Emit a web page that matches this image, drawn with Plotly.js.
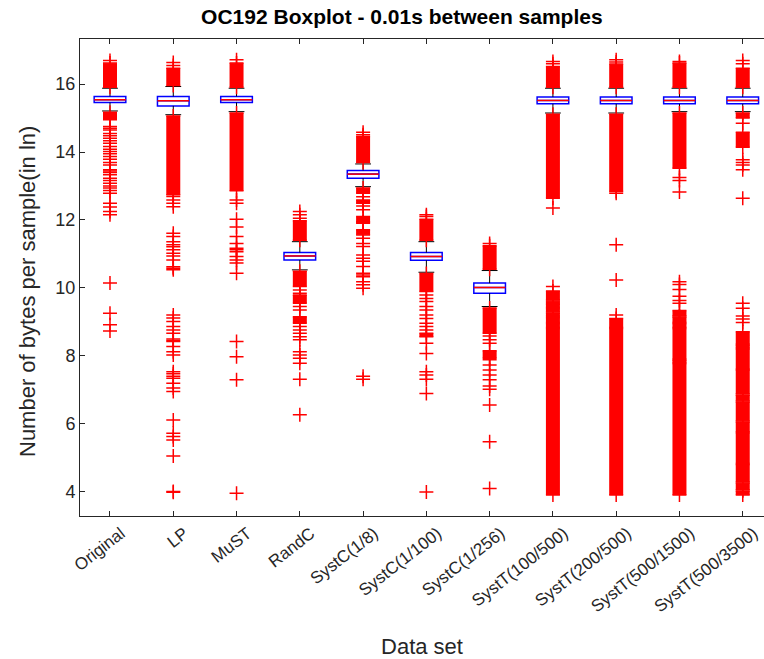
<!DOCTYPE html>
<html>
<head>
<meta charset="utf-8">
<script src="https://cdn.plot.ly/plotly-3.0.1.min.js"></script>
<style>
  html, body { margin: 0; padding: 0; background: #fff; }
  #chart { width: 764px; height: 659px; }
</style>
</head>
<body>
<div id="chart"></div>
<script>
// Data sets on the x axis
const labels = ['Original', 'LP', 'MuST', 'RandC', 'SystC(1/8)', 'SystC(1/100)',
  'SystC(1/256)', 'SystT(100/500)', 'SystT(200/500)', 'SystT(500/1500)', 'SystT(500/3500)'];

// Box statistics (ln of bytes per sample)
const q1      = [15.46, 15.36, 15.46, 10.82, 13.23, 10.81, 9.84, 15.42, 15.42, 15.42, 15.42];
const median  = [15.54, 15.51, 15.54, 10.94, 13.35, 10.92, 10.01, 15.52, 15.52, 15.52, 15.52];
const q3      = [15.64, 15.64, 15.64, 11.04, 13.46, 11.04, 10.14, 15.62, 15.62, 15.62, 15.62];
const whiskLo = [15.21, 15.10, 15.19, 10.53, 12.98, 10.46, 9.45, 15.15, 15.15, 15.19, 15.19];
const whiskHi = [15.88, 15.93, 15.88, 11.36, 13.65, 11.36, 10.51, 15.88, 15.88, 15.88, 15.88];

// Runs of outliers so dense that their markers merge: [low, high]
const denseRuns = [
  [[15.91, 16.62], [14.95, 15.17]],
  [[15.96, 16.47], [12.74, 15.06]],
  [[15.91, 16.62], [12.86, 15.15]],
  [[11.40, 11.98], [10.04, 10.49], [9.55, 9.79], [8.96, 9.15]],
  [[13.69, 14.46], [12.79, 12.94], [12.49, 12.59], [11.90, 12.10], [11.56, 11.71]],
  [[11.40, 12.02], [9.89, 10.42], [8.56, 8.66]],
  [[10.55, 11.24], [8.66, 9.41], [7.93, 8.15]],
  [[15.91, 16.52], [12.64, 15.11], [9.64, 9.91], [9.55, 9.61], [9.42, 9.52], [9.29, 9.39],
   [9.16, 9.26], [8.98, 9.13], [8.83, 8.95], [3.90, 8.80]],
  [[15.91, 16.59], [12.84, 15.11], [8.83, 9.10], [3.90, 8.80]],
  [[15.91, 16.62], [13.52, 15.15], [9.17, 9.33], [8.98, 9.14], [8.83, 8.95], [7.90, 8.80],
   [7.80, 7.87], [3.90, 7.77]],
  [[15.91, 16.47], [15.00, 15.15], [14.14, 14.58], [8.34, 8.71], [8.24, 8.31], [7.60, 8.21],
   [6.87, 7.57], [6.67, 6.84], [6.08, 6.64], [5.76, 6.05], [4.83, 5.73], [4.28, 4.80],
   [4.05, 4.25], [3.90, 4.02]]
];

// Individual outliers
const outliers = [
  [16.70, 14.75, 14.70, 14.65, 14.55, 14.48, 14.41, 14.33, 14.26, 14.16, 14.08, 14.02, 13.95,
   13.87, 13.79, 13.69, 13.62, 13.48, 13.44, 13.40, 13.33, 13.23, 13.16, 13.08, 13.00, 12.94,
   12.87, 12.79, 12.49, 12.38, 12.25, 12.15, 10.14, 9.25, 8.91, 8.73],
  [16.64, 16.55, 12.69, 12.59, 12.49, 12.39, 11.61, 11.51, 11.36, 11.27, 11.21, 11.12, 11.02,
   10.94, 10.82, 10.62, 10.58, 10.53, 9.20, 9.11, 9.01, 8.86, 8.76, 8.66, 8.49, 8.45, 8.42,
   8.27, 8.12, 8.02, 7.53, 7.47, 7.40, 7.34, 7.19, 7.05, 6.95, 6.11, 5.72, 5.62, 5.52, 5.05,
   4.00, 3.98],
  [16.72, 12.59, 12.49, 12.02, 11.79, 11.51, 11.31, 11.17, 11.12, 11.06, 10.92, 10.82, 10.73,
   10.43, 8.42, 7.97, 7.29, 3.95],
  [12.25, 12.15, 12.05, 9.94, 9.84, 9.45, 9.35, 8.86, 8.76, 8.66, 8.56, 8.47, 8.12, 8.02,
   7.93, 7.78, 7.31, 6.26],
  [14.58, 14.51, 12.68, 12.41, 12.30, 11.95, 11.46, 11.31, 11.22, 10.97, 10.87, 10.78, 10.63,
   10.43, 10.38, 10.33, 10.18, 10.09, 9.99, 7.40, 7.31],
  [12.15, 12.10, 9.79, 9.69, 9.60, 9.45, 9.35, 9.20, 9.10, 8.96, 8.86, 8.76, 8.37, 8.07,
   7.53, 7.43, 7.31, 6.89, 3.99],
  [11.31, 8.58, 8.47, 8.37, 7.88, 7.73, 7.58, 7.43, 7.29, 7.11, 7.01, 6.55, 5.47, 4.09],
  [16.67, 16.60, 12.35, 10.04],
  [16.72, 16.65, 12.79, 11.27, 10.23, 9.20],
  [16.67, 13.25, 13.16, 12.82, 10.18, 10.10, 9.95, 9.75, 9.63, 9.55],
  [16.70, 16.60, 14.85, 13.77, 13.69, 13.62, 13.48, 12.64, 9.55, 9.40, 9.17, 9.08, 8.98]
];

const positions = labels.map((_, i) => i + 1);
const BOX_HALF = 0.25;   // half of box width, data units
const CAP_HALF = 0.125;  // half of whisker cap width
const AXIS_GREY = '#262626';
const FONT = 'Liberation Sans, Arial, Helvetica, sans-serif';

// Whisker stems and caps
const whiskX = [], whiskY = [], capX = [], capY = [];
positions.forEach((p, i) => {
  whiskX.push(p, p, null, p, p, null);
  whiskY.push(q3[i], whiskHi[i], null, q1[i], whiskLo[i], null);
  capX.push(p - CAP_HALF, p + CAP_HALF, null, p - CAP_HALF, p + CAP_HALF, null);
  capY.push(whiskHi[i], whiskHi[i], null, whiskLo[i], whiskLo[i], null);
});

// Dense outlier runs as thick vertical strokes, plus their end markers
const runX = [], runY = [], ptX = [], ptY = [];
denseRuns.forEach((runs, i) => {
  runs.forEach(([lo, hi]) => {
    runX.push(positions[i], positions[i], null);
    runY.push(lo, hi, null);
    ptX.push(positions[i], positions[i]);
    ptY.push(lo, hi);
  });
});
outliers.forEach((vals, i) => {
  vals.forEach(v => { ptX.push(positions[i]); ptY.push(v); });
});

// Median segments
const medX = [], medY = [];
positions.forEach((p, i) => {
  medX.push(p - BOX_HALF, p + BOX_HALF, null);
  medY.push(median[i], median[i], null);
});

const traces = [
  { type: 'scatter', mode: 'lines', x: whiskX, y: whiskY,
    line: { color: '#000000', width: 1 }, hoverinfo: 'skip', showlegend: false },
  { type: 'scatter', mode: 'lines', x: capX, y: capY,
    line: { color: '#000000', width: 1 }, hoverinfo: 'skip', showlegend: false },
  { type: 'scatter', mode: 'lines', x: runX, y: runY,
    line: { color: '#ff0000', width: 14 }, hoverinfo: 'skip', showlegend: false },
  { type: 'scatter', mode: 'markers', x: ptX, y: ptY,
    marker: { symbol: 'cross-thin', size: 10, color: '#ff0000',
              line: { color: '#ff0000', width: 1.5 } },
    hoverinfo: 'y', showlegend: false },
  { type: 'box', x: positions, q1: q1, median: median, q3: q3,
    lowerfence: q1, upperfence: q3, width: 2 * BOX_HALF, whiskerwidth: 0,
    boxpoints: false, fillcolor: 'rgba(0,0,0,0)',
    line: { color: '#0000ff', width: 1.5 }, hoverinfo: 'skip', showlegend: false },
  { type: 'scatter', mode: 'lines', x: medX, y: medY,
    line: { color: '#ff0000', width: 1.5 }, hoverinfo: 'skip', showlegend: false }
];

const layout = {
  width: 764, height: 659,
  margin: { l: 80, r: 0, t: 39, b: 143 },
  paper_bgcolor: '#ffffff', plot_bgcolor: '#ffffff',
  showlegend: false,
  font: { family: FONT, color: AXIS_GREY },
  title: {
    text: 'OC192 Boxplot - 0.01s between samples',
    font: { family: FONT, size: 21, weight: 'bold', color: '#000000' },
    xref: 'container', x: 0.526, xanchor: 'center',
    yref: 'container', y: 1 - 17 / 659, yanchor: 'middle'
  },
  xaxis: {
    range: [0.526, 11.336],
    tickmode: 'array', tickvals: positions, ticktext: labels, tickangle: -38,
    ticklabelshift: 11,
    ticks: 'inside', ticklen: 5, tickwidth: 1, tickcolor: AXIS_GREY,
    showline: true, linecolor: AXIS_GREY, linewidth: 1, mirror: 'ticks',
    showgrid: false, zeroline: false,
    tickfont: { family: FONT, size: 17, color: AXIS_GREY },
    title: { text: 'Data set', font: { family: FONT, size: 22, color: AXIS_GREY }, standoff: 23 }
  },
  yaxis: {
    range: [3.28, 17.33],
    tickmode: 'array', tickvals: [4, 6, 8, 10, 12, 14, 16],
    ticks: 'inside', ticklen: 5, tickwidth: 1, tickcolor: AXIS_GREY,
    showline: true, linecolor: AXIS_GREY, linewidth: 1, mirror: false,
    showgrid: false, zeroline: false,
    tickfont: { family: FONT, size: 18, color: AXIS_GREY }
  },
  annotations: [{
    text: 'Number of bytes per sample(in ln)',
    xref: 'paper', yref: 'paper',
    x: (27 - 80) / 684, y: 1 - (292 - 39) / 477,
    xanchor: 'center', yanchor: 'middle', textangle: -90, showarrow: false,
    font: { family: FONT, size: 22, color: AXIS_GREY }
  }]
};

Plotly.newPlot('chart', traces, layout, { displayModeBar: false, staticPlot: true });
</script>
</body>
</html>
